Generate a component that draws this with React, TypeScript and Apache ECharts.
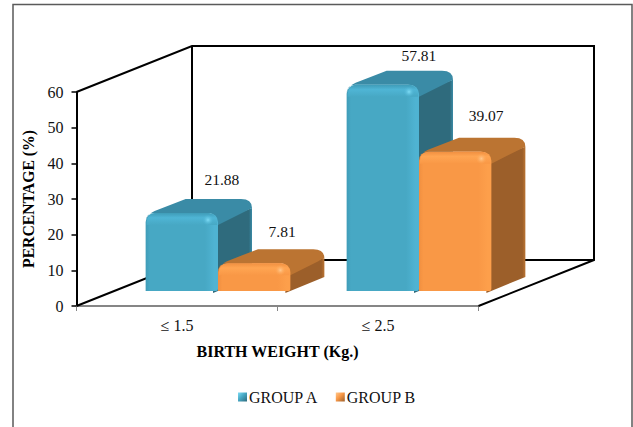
import React, { useEffect, useRef } from "react";
import * as echarts from "echarts";

const categories = ["\u2264 1.5", "\u2264 2.5"];
const groupA = [21.88, 57.81];
const groupB = [7.81, 39.07];
const yTicks = [0, 10, 20, 30, 40, 50, 60];

const SERIF = "'Liberation Serif', 'Times New Roman', serif";
const WALL = { dx: 115.5, dy: -46 };
const BAR_DEPTH = { dx: 34, dy: -14 };
const FLOOR_SHIFT = { dx: 41, dy: -15 };
const LABEL_OFFSETS_A = [
  [40, -33],
  [36, -29],
];
const LABEL_OFFSETS_B = [
  [28, -32],
  [31, -36],
];

echarts.graphic.registerShape(
  "barTop",
  echarts.graphic.extendShape({
    shape: { x0: 0, x1: 0, y: 0, dx: 0, dy: 0, r: 0 },
    buildPath(ctx: any, s: any) {
      ctx.moveTo(s.x0, s.y + s.r);
      ctx.quadraticCurveTo(s.x0, s.y + 2, s.x0 + s.r, s.y - 2);
      ctx.lineTo(s.x0 + s.r + s.dx - 3, s.y + s.dy);
      ctx.lineTo(s.x1 + s.dx - s.r - 2, s.y + s.dy);
      ctx.quadraticCurveTo(s.x1 + s.dx, s.y + s.dy, s.x1 + s.dx, s.y + s.dy + s.r);
      ctx.lineTo(s.x1, s.y + s.r + 3);
      ctx.lineTo(s.x1 - 2, s.y + s.r);
      ctx.quadraticCurveTo(s.x1 - 2, s.y, s.x1 - s.r - 2, s.y);
      ctx.lineTo(s.x0 + s.r, s.y);
      ctx.quadraticCurveTo(s.x0, s.y, s.x0, s.y + s.r);
      ctx.closePath();
    },
  })
);

echarts.graphic.registerShape(
  "barSide",
  echarts.graphic.extendShape({
    shape: { x: 0, top: 0, bottom: 0, dx: 0, dy: 0, r: 0 },
    buildPath(ctx: any, s: any) {
      ctx.moveTo(s.x - 5, s.top + s.r + 1);
      ctx.lineTo(s.x + s.dx, s.top + s.dy + s.r);
      ctx.lineTo(s.x + s.dx, s.bottom + s.dy);
      ctx.lineTo(s.x - 5, s.bottom + 2);
      ctx.closePath();
    },
  })
);

const linear = (x: number, y: number, x2: number, y2: number, stops: [number, string][]) => ({
  type: "linear",
  x,
  y,
  x2,
  y2,
  colorStops: stops.map(([offset, color]) => ({ offset, color })),
});

const palette = {
  a: {
    edge: "#3f9cb8",
    front: "#47a8c4",
    shine: "#4fb3d2",
    bevel: "#4fb5d5",
    top: "#3a8ba6",
    side: "#2f6b7d",
    spot: "#7fdcf5",
  },
  b: {
    edge: "#f08f40",
    front: "#f99846",
    shine: "#fd9f4b",
    bevel: "#ffa552",
    top: "#bb7432",
    side: "#9c5f2a",
    spot: "#ffc98f",
  },
};

function barRenderer(slot: number, colors: typeof palette.a, labelOffsets: number[][]) {
  return (params: any, api: any) => {
    const cat = api.value(0);
    const value = api.value(1);
    const band = api.size([1, 0])[0];
    const w = band * 0.36;
    const unit = api.size([0, 1])[1];
    const zero = api.coord([cat, 0]);
    const x0 = zero[0] + FLOOR_SHIFT.dx + (slot - 1) * w;
    const x1 = x0 + w;
    const bottom = zero[1] + FLOOR_SHIFT.dy;
    const top = bottom - value * unit;
    const h = bottom - top;
    const r = Math.min(9, h / 2.6);
    const bevel = Math.min(9, h / 3);
    const offset = labelOffsets[cat];
    return {
      type: "group",
      children: [
        {
          type: "barSide",
          shape: { x: x1, top, bottom, dx: BAR_DEPTH.dx, dy: BAR_DEPTH.dy, r },
          style: {
            fill: linear(0, 0, 1, 0, [
              [0, colors.side],
              [0.92, colors.side],
              [1, colors.top],
            ]),
          },
        },
        {
          type: "barTop",
          shape: { x0, x1, y: top, dx: BAR_DEPTH.dx, dy: BAR_DEPTH.dy, r },
          style: { fill: colors.top },
        },
        {
          type: "rect",
          shape: { x: x0, y: top, width: w, height: h, r: [r, r, 2, 0] },
          style: {
            fill: linear(0, 0, 1, 0, [
              [0, colors.edge],
              [0.06, colors.front],
              [0.82, colors.front],
              [0.95, colors.shine],
              [1, colors.shine],
            ]),
          },
        },
        {
          type: "rect",
          shape: { x: x0 + 1, y: top, width: w - 2, height: bevel + 3, r: [r, r, 0, 0] },
          style: {
            fill: linear(0, 0, 0, 1, [
              [0, colors.edge],
              [0.4, colors.bevel],
              [1, colors.front],
            ]),
          },
        },
        {
          type: "circle",
          shape: { cx: x1 - 10, cy: top + 7, r: 5.5 },
          style: {
            fill: {
              type: "radial",
              x: 0.5,
              y: 0.5,
              r: 0.5,
              colorStops: [
                { offset: 0, color: colors.spot },
                { offset: 1, color: colors.bevel + "00" },
              ],
            },
          },
        },
        {
          type: "text",
          x: (x0 + x1) / 2 + offset[0],
          y: top + offset[1],
          style: {
            text: value.toFixed(2),
            fontFamily: SERIF,
            fontSize: 15.5,
            fill: "#111",
            align: "center",
            verticalAlign: "middle",
          },
        },
      ],
    };
  };
}

function wallRenderer(params: any, api: any) {
  const band = api.size([1, 0])[0];
  const first = api.coord([0, 0]);
  const lastTop = api.coord([categories.length - 1, yTicks[yTicks.length - 1]]);
  const left = first[0] - band / 2;
  const right = lastTop[0] + band / 2;
  const floor = first[1];
  const ceil = lastTop[1];
  const lineStyle = { stroke: "#000", lineWidth: 2, fill: "none" };
  return {
    type: "group",
    children: [
      {
        type: "polyline",
        shape: {
          points: [
            [left, ceil],
            [left + WALL.dx, ceil + WALL.dy],
            [right + WALL.dx, ceil + WALL.dy],
            [right + WALL.dx, floor + WALL.dy],
            [right, floor],
          ],
        },
        style: lineStyle,
      },
      {
        type: "polyline",
        shape: {
          points: [
            [left, floor],
            [left + WALL.dx, floor + WALL.dy],
            [right + WALL.dx, floor + WALL.dy],
          ],
        },
        style: lineStyle,
      },
      {
        type: "line",
        shape: { x1: left + WALL.dx, y1: ceil + WALL.dy, x2: left + WALL.dx, y2: floor + WALL.dy },
        style: lineStyle,
      },
    ],
  };
}

const legendFill = (c: typeof palette.a) =>
  linear(0, 0, 1, 1, [
    [0, c.spot],
    [0.45, c.front],
    [1, c.side],
  ]);

export default function App() {
  const ref = useRef<HTMLDivElement>(null);
  useEffect(() => {
    const chart = echarts.init(ref.current!, null, { renderer: "svg" });
    chart.setOption({
      animation: false,
      backgroundColor: "#fff",
      textStyle: { fontFamily: SERIF },
      grid: { left: 76.5, top: 92, width: 402, height: 214, containLabel: false },
      legend: {
        left: 233,
        top: 384,
        itemWidth: 9,
        itemHeight: 9,
        itemGap: 17,
        icon: "rect",
        data: ["GROUP A", "GROUP B"],
        textStyle: { fontFamily: SERIF, fontSize: 16, color: "#111", padding: [0, 0, 0, -3] },
      },
      xAxis: {
        type: "category",
        data: categories,
        boundaryGap: true,
        name: "BIRTH WEIGHT (Kg.)",
        nameLocation: "middle",
        nameGap: 37,
        nameTextStyle: { fontFamily: SERIF, fontSize: 16, fontWeight: "bold", color: "#000" },
        axisLine: { lineStyle: { color: "#868686", width: 2 } },
        axisTick: { show: true, alignWithLabel: false, length: 5, lineStyle: { color: "#868686" } },
        axisLabel: { fontFamily: SERIF, fontSize: 16, color: "#111", margin: 11 },
      },
      yAxis: {
        type: "value",
        min: yTicks[0],
        max: yTicks[yTicks.length - 1],
        interval: 10,
        name: "PERCENTAGE (%)",
        nameLocation: "middle",
        nameGap: 40,
        nameTextStyle: { fontFamily: SERIF, fontSize: 15.7, fontWeight: "bold", color: "#000" },
        axisLine: { show: true, lineStyle: { color: "#000", width: 2 } },
        axisTick: { show: true, length: 5, lineStyle: { color: "#000", width: 1.5 } },
        axisLabel: { fontFamily: SERIF, fontSize: 16, color: "#111", margin: 13 },
        splitLine: { show: false },
      },
      series: [
        {
          type: "custom",
          name: "wall",
          z: 1,
          silent: true,
          data: [[0, 0]],
          renderItem: wallRenderer,
          encode: { x: 0, y: 1 },
        },
        {
          type: "custom",
          name: "GROUP A",
          z: 3,
          itemStyle: { color: legendFill(palette.a) },
          data: groupA.map((v, i) => [i, v]),
          renderItem: barRenderer(0, palette.a, LABEL_OFFSETS_A),
          encode: { x: 0, y: 1 },
        },
        {
          type: "custom",
          name: "GROUP B",
          z: 4,
          itemStyle: { color: legendFill(palette.b) },
          data: groupB.map((v, i) => [i, v]),
          renderItem: barRenderer(1, palette.b, LABEL_OFFSETS_B),
          encode: { x: 0, y: 1 },
        },
      ],
      graphic: [
        {
          type: "polyline",
          silent: true,
          shape: {
            points: [
              [13, 427],
              [13, 4.5],
              [632, 4.5],
              [632, 427],
            ],
          },
          style: { stroke: "#5a5a5a", lineWidth: 1.5, fill: "none" },
        },
      ],
    });
    return () => chart.dispose();
  }, []);
  return (
    <div
      ref={ref}
      style={{ position: "fixed", left: 0, top: 0, width: 633, height: 427 }}
    />
  );
}
